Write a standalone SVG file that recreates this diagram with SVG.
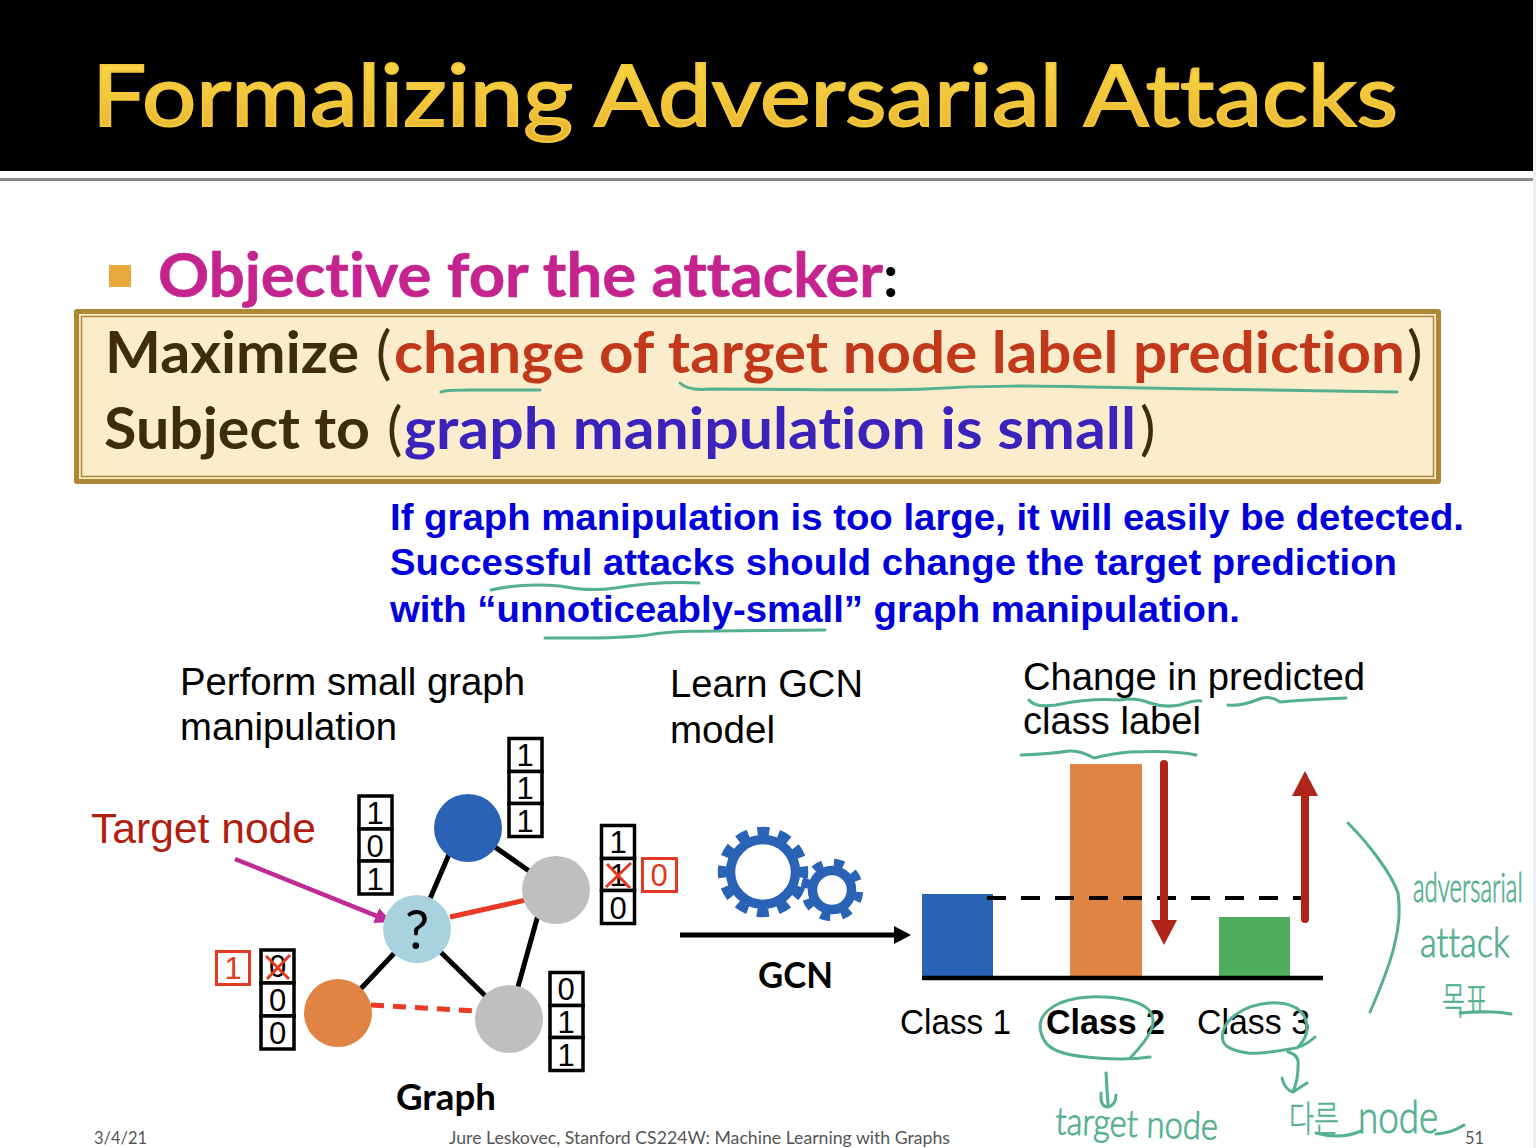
<svg xmlns="http://www.w3.org/2000/svg" width="1536" height="1148" viewBox="0 0 1536 1148">
<style>
text{font-variant-ligatures:none}
.cal{font-family:"Lato","Noto Sans",sans-serif;font-weight:700}
.ar{font-family:"Liberation Sans",Arial,sans-serif}
.blue{font-size:37px;font-weight:700;fill:#0000dc}
.blk{font-size:38px;fill:#000}
.eq{font-size:58px}
.dk{fill:#3e2c0c}
.d{font-size:31px;text-anchor:middle;fill:#000}
.r{font-size:31px;text-anchor:middle;fill:#e23a22}
.cell{fill:#fff;stroke:#000;stroke-width:3.5}
.rb{fill:#fff;stroke:#e23a22;stroke-width:3}
.x{fill:none;stroke:#e23a22;stroke-width:3}
.e{stroke:#000;stroke-width:5;fill:none}
.ink{fill:none;stroke:#55b08f;stroke-width:3;stroke-linecap:round;stroke-linejoin:round}
.hw{font-family:"Lato","Open Sans",sans-serif;font-weight:300;fill:#55b08f;stroke:#55b08f;stroke-width:.9}
.hk{font-family:"Noto Sans CJK KR",sans-serif;font-weight:300;fill:#55b08f;stroke:#55b08f;stroke-width:.5}
.foot{font-family:"Lato","Noto Sans",sans-serif;font-size:18px;fill:#555}
.cls{font-size:35px;fill:#000}
</style>
<defs>
<linearGradient id="gold" x1="0" y1="0" x2="0" y2="1"><stop offset="0" stop-color="#ffe04c"/><stop offset="1" stop-color="#e6b030"/></linearGradient>
<marker id="mg" markerUnits="userSpaceOnUse" markerWidth="20" markerHeight="20" refX="11" refY="8" orient="auto"><path d="M0 0L17 8L0 16Z" fill="#c02a96"/></marker>
<marker id="blk" markerUnits="userSpaceOnUse" markerWidth="20" markerHeight="20" refX="11" refY="9" orient="auto"><path d="M0 0L17 9L0 18Z" fill="#000"/></marker>
<marker id="rd" markerUnits="userSpaceOnUse" markerWidth="28" markerHeight="28" refX="15" refY="13" orient="auto"><path d="M0 0L25 13L0 26Z" fill="#b0251a"/></marker>
</defs>
<rect width="1536" height="1148" fill="#fff"/>
<rect x="1533" y="0" width="3" height="1148" fill="#eaf1f8"/>
<g id="header">
<rect x="0" y="0" width="1533" height="171" fill="#000"/>
<rect x="0" y="178" width="1533" height="3" fill="#8a8a8a"/>
<text x="92" y="126" class="cal" font-size="86" style="font-weight:400" fill="url(#gold)" stroke="#f2c838" stroke-width="2" textLength="1306" lengthAdjust="spacingAndGlyphs">Formalizing Adversarial Attacks</text>
</g>
<g id="objective">
<rect x="109" y="265" width="22" height="22" fill="#e8a93a"/>
<text x="158" y="297" class="cal" font-size="62" fill="#c5248f" stroke="#c5248f" stroke-width=".6" textLength="725" lengthAdjust="spacingAndGlyphs">Objective for the attacker</text>
<text x="883" y="297" class="cal" font-size="60" fill="#000">:</text>
</g>
<g id="formula">
<rect x="74" y="309" width="1367" height="175" rx="3" fill="#ad8735"/>
<rect x="79" y="314" width="1357" height="165" fill="#fbedcb"/>
<rect x="81.500" y="316.500" width="1352" height="160" fill="none" stroke="#ad8735" stroke-width="1.500"/>
<text x="105" y="373" class="cal eq dk" textLength="254" lengthAdjust="spacingAndGlyphs">Maximize</text>
<text x="376" y="373" class="cal eq" style="font-weight:400" fill="#3e2c0c">(</text>
<text x="394" y="373" class="cal eq" fill="#c1391a" textLength="1011" lengthAdjust="spacingAndGlyphs">change of target node label prediction</text>
<text x="1407" y="373" class="cal eq" style="font-weight:400" fill="#3e2c0c">)</text>
<text x="104" y="449" class="cal eq dk" textLength="266" lengthAdjust="spacingAndGlyphs">Subject to</text>
<text x="387" y="449" class="cal eq" style="font-weight:400" fill="#3e2c0c">(</text>
<text x="404" y="449" class="cal eq" fill="#3a23bb" textLength="732" lengthAdjust="spacingAndGlyphs">graph manipulation is small</text>
<text x="1140" y="449" class="cal eq" style="font-weight:400" fill="#3e2c0c">)</text>
</g>
<g id="note">
<text x="390" y="530" class="ar blue" textLength="1074" lengthAdjust="spacingAndGlyphs">If graph manipulation is too large, it will easily be detected.</text>
<text x="390" y="575" class="ar blue" textLength="1007" lengthAdjust="spacingAndGlyphs">Successful attacks should change the target prediction</text>
<text x="390" y="622" class="ar blue" textLength="850" lengthAdjust="spacingAndGlyphs">with “unnoticeably-small” graph manipulation.</text>
</g>
<g id="captions">
<text x="180" y="695" class="ar blk" textLength="345" lengthAdjust="spacingAndGlyphs">Perform small graph</text>
<text x="180" y="740" class="ar blk" textLength="217" lengthAdjust="spacingAndGlyphs">manipulation</text>
<text x="670" y="697" class="ar blk" textLength="193" lengthAdjust="spacingAndGlyphs">Learn GCN</text>
<text x="670" y="743" class="ar blk" textLength="105" lengthAdjust="spacingAndGlyphs">model</text>
<text x="1023" y="690" class="ar blk" textLength="342" lengthAdjust="spacingAndGlyphs">Change in predicted</text>
<text x="1023" y="734" class="ar blk" textLength="178" lengthAdjust="spacingAndGlyphs">class label</text>
<text x="91" y="843" class="ar" font-size="42" fill="#b01f12" textLength="225" lengthAdjust="spacingAndGlyphs">Target node</text>
</g>
<g id="connectors">
<path class="e" d="M468 810L417 929M468 828L556 890M417 929L338 1013M417 929L509 1019M545 890L509 1019"/>
<path d="M450 917L526 900" stroke="#e83a24" stroke-width="5" fill="none"/>
<path d="M371 1005L477 1011" stroke="#e83a24" stroke-width="5" stroke-dasharray="13 9" fill="none"/>
<path d="M235 859L386.400 919.800" stroke="#c02a96" stroke-width="4.500" fill="none" marker-end="url(#mg)"/>
<path d="M680 935L905 935" stroke="#000" stroke-width="5" fill="none" marker-end="url(#blk)"/>
</g>
<g id="node-blue"><circle cx="468" cy="828" r="34" fill="#2a62b6"/></g>
<g id="node-gray-1"><circle cx="556" cy="890" r="34" fill="#bfbfbf"/></g>
<g id="node-target"><circle cx="417" cy="929" r="34" fill="#a9d2df"/><text x="417" y="949" class="cal" font-size="54" style="font-weight:400" text-anchor="middle" fill="#000">?</text></g>
<g id="node-orange"><circle cx="338" cy="1013" r="34" fill="#df8442"/></g>
<g id="node-gray-2"><circle cx="509" cy="1019" r="34" fill="#bfbfbf"/></g>
<g id="vec-a" class="ar">
<rect class="cell" x="359" y="796" width="33" height="33"/><rect class="cell" x="359" y="829" width="33" height="32"/><rect class="cell" x="359" y="861" width="33" height="33"/>
<text class="d" x="375" y="824">1</text><text class="d" x="375" y="857">0</text><text class="d" x="375" y="890">1</text>
</g>
<g id="vec-b" class="ar">
<rect class="cell" x="509" y="738.500" width="33" height="33"/><rect class="cell" x="509" y="771.500" width="33" height="32"/><rect class="cell" x="509" y="803.500" width="33" height="33"/>
<text class="d" x="525" y="766">1</text><text class="d" x="525" y="799">1</text><text class="d" x="525" y="832">1</text>
</g>
<g id="vec-c" class="ar">
<rect class="cell" x="601.500" y="825.500" width="33" height="33"/><rect class="cell" x="601.500" y="858.500" width="33" height="32"/><rect class="cell" x="601.500" y="890.500" width="33" height="33"/>
<text class="d" x="618" y="853">1</text><text class="d" x="618" y="886">1</text><text class="d" x="618" y="919">0</text>
<path class="x" d="M607 864L630 888M631 863L606 887"/>
<rect class="rb" x="642.500" y="858.500" width="34" height="33"/><text class="r" x="659" y="886">0</text>
</g>
<g id="vec-d" class="ar">
<rect class="cell" x="261" y="950" width="33" height="33"/><rect class="cell" x="261" y="983" width="33" height="33"/><rect class="cell" x="261" y="1016" width="33" height="33"/>
<text class="d" x="277.500" y="977">0</text><text class="d" x="277.500" y="1011">0</text><text class="d" x="277.500" y="1044">0</text>
<path class="x" d="M266 956L289 979M290 955L267 979"/>
<rect class="rb" x="216.500" y="951.500" width="33" height="33"/><text class="r" x="233" y="979">1</text>
</g>
<g id="vec-e" class="ar">
<rect class="cell" x="550" y="972.500" width="33" height="33"/><rect class="cell" x="550" y="1005.500" width="33" height="32"/><rect class="cell" x="550" y="1037.500" width="33" height="33"/>
<text class="d" x="566" y="1000">0</text><text class="d" x="566" y="1033">1</text><text class="d" x="566" y="1066">1</text>
</g>
<g id="graph-label"><text x="396" y="1110" class="cal" font-size="36" fill="#000" textLength="100" lengthAdjust="spacingAndGlyphs">Graph</text></g>
<g id="gcn">
<circle cx="763" cy="872" r="32.500" fill="none" stroke="#2a62b6" stroke-width="9.500"/>
<circle cx="763" cy="872" r="41" fill="none" stroke="#2a62b6" stroke-width="8.500" stroke-dasharray="12 9.470" stroke-dashoffset="6"/>
<circle cx="832" cy="890" r="19.500" fill="none" stroke="#2a62b6" stroke-width="9.500"/>
<circle cx="832" cy="890" r="27.500" fill="none" stroke="#2a62b6" stroke-width="7.500" stroke-dasharray="10 11.600" stroke-dashoffset="5" transform="rotate(14 832 890)"/>
<text x="758" y="988" class="cal" font-size="36" fill="#000" textLength="75" lengthAdjust="spacingAndGlyphs">GCN</text>
</g>
<g id="chart">
<rect id="bar-1" x="922" y="894" width="71" height="83" fill="#2a62b6"/>
<rect id="bar-2" x="1070" y="764" width="72" height="213" fill="#df8442"/>
<rect id="bar-3" x="1219" y="917" width="71" height="60" fill="#4fae5c"/>
<path d="M922 978L1323 978" stroke="#000" stroke-width="4.500"/>
<path d="M987 898L1303 898" stroke="#000" stroke-width="4" stroke-dasharray="19 15"/>
<path d="M1164 764L1164 935" stroke="#b0251a" stroke-width="8" fill="none" marker-end="url(#rd)"/>
<circle cx="1164" cy="764" r="4" fill="#b0251a"/>
<path d="M1305 919L1305 781" stroke="#b0251a" stroke-width="8" fill="none" marker-end="url(#rd)"/>
<circle cx="1305" cy="919" r="4" fill="#b0251a"/>
<text x="900" y="1034" class="ar cls" textLength="111" lengthAdjust="spacingAndGlyphs">Class 1</text>
<text x="1046" y="1034" class="ar cls" font-weight="700" textLength="119" lengthAdjust="spacingAndGlyphs">Class 2</text>
<text x="1197" y="1034" class="ar cls" textLength="113" lengthAdjust="spacingAndGlyphs">Class 3</text>
</g>
<g id="footer">
<text x="94" y="1144" class="foot" textLength="53" lengthAdjust="spacingAndGlyphs">3/4/21</text>
<text x="449" y="1144" class="foot" textLength="501" lengthAdjust="spacingAndGlyphs">Jure Leskovec, Stanford CS224W: Machine Learning with Graphs</text>
<text x="1465" y="1144" class="foot" textLength="19" lengthAdjust="spacingAndGlyphs">51</text>
</g>
<g id="annotations">
<path class="ink" d="M441 392Q445 390 470 390L540 390"/>
<path class="ink" d="M680 383Q688 391 710 389C800 389 880 391 925 389C990 385 1040 386 1090 387L1200 389L1397 392"/>
<path class="ink" d="M491 590Q520 583 560 586Q590 592 615 588Q660 581 699 583"/>
<path class="ink" d="M545 638C580 638 620 639 648 635C680 630 700 631 825 630"/>
<path class="ink" d="M1029 700Q1035 708 1056 705Q1090 698 1120 700Q1135 697 1150 703Q1165 708 1180 705Q1195 700 1201 701"/>
<path class="ink" d="M1228 705Q1240 707 1262 698Q1272 696 1280 702Q1300 700 1346 698"/>
<path class="ink" d="M1021 755Q1050 754 1069 751Q1080 750 1094 758Q1115 753 1130 752Q1175 750 1196 755"/>
<path class="ink" d="M1150 1057C1130 1060 1110 1059 1097 1058C1070 1056 1050 1052 1044 1040C1036 1025 1040 1012 1060 1003C1075 997 1090 996 1105 997C1125 998 1140 1001 1149 1010C1158 1022 1152 1035 1131 1057"/>
<path class="ink" d="M1315 1037C1305 1046 1298 1048 1290 1049C1272 1052 1258 1054 1248 1053C1228 1050 1220 1045 1223 1032C1226 1018 1245 1005 1269 1003C1285 1002 1300 1006 1305 1018C1310 1030 1305 1040 1298 1047"/>
<path class="ink" d="M1106 1073L1108 1105M1101 1093Q1100 1107 1108 1107Q1116 1105 1116 1095"/>
<path class="ink" d="M1288 1052Q1300 1055 1298 1067Q1298 1080 1293 1092M1282 1078Q1285 1090 1293 1092L1307 1083"/>
<path class="ink" d="M1348 823C1370 845 1392 875 1398 893C1403 925 1393 960 1370 1012"/>
<path class="ink" d="M1460 1013Q1490 1010 1511 1014"/>
<path class="ink" d="M1316 1133Q1340 1140 1361 1131"/>
<path class="ink" d="M1436 1134Q1452 1133 1464 1125"/>
<text transform="translate(1413 902) scale(.57 1)" class="hw" font-size="42">adversarial</text>
<text transform="translate(1420 957) scale(.82 1)" class="hw" font-size="42">attack</text>
<text x="1442" y="1014" class="hk" font-size="38" textLength="46" lengthAdjust="spacingAndGlyphs">목표</text>
<text transform="translate(1055 1134) rotate(2) scale(.86 1)" class="hw" font-size="38">target node</text>
<text x="1289" y="1132" class="hk" font-size="36" textLength="50" lengthAdjust="spacingAndGlyphs">다른</text>
<text transform="translate(1358 1133) scale(.8 1)" class="hw" font-size="46">node</text>
</g>
</svg>
